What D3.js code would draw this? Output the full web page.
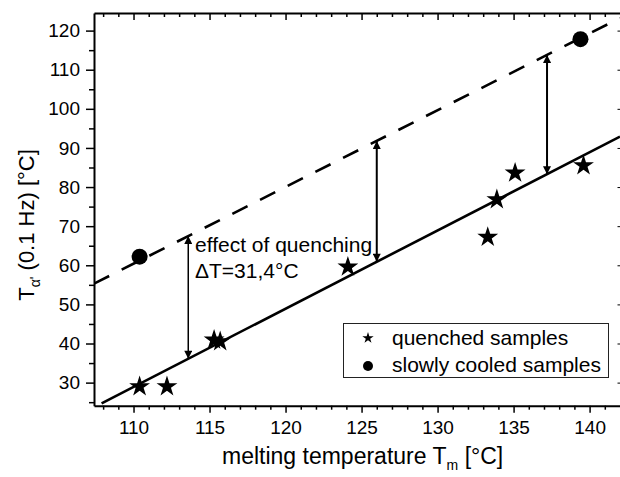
<!DOCTYPE html>
<html>
<head>
<meta charset="utf-8">
<script src="https://cdn.jsdelivr.net/npm/d3@7"></script>
<style>
  body { margin: 0; background: #fff; }
  svg { display: block; font-family: "Liberation Sans", Arial, sans-serif; }
  .axis path, .axis line { stroke: #000; }
  .axis text { font-size: 19px; fill: #000; }
</style>
</head>
<body>
<svg id="chart" width="620" height="477"></svg>
<script>
// quenched samples (stars)
const quenchedTm = [110.4, 112.2, 115.3, 115.7, 124.1, 133.3, 133.9, 135.1, 139.6];
const quenchedTa = [29.0, 29.0, 40.9, 40.5, 59.6, 67.2, 76.8, 83.6, 85.5];
// slowly cooled samples (circles)
const cooledTm = [110.4, 139.4];
const cooledTa = [62.2, 117.8];
// linear fits, given by their end points
const fitQuenchedTm = [107.9, 142];
const fitQuenchedTa = [24.7, 92.9];
const fitCooledTm = [107.4, 142];
const fitCooledTa = [55.3, 123.2];
// where the double arrows sit
const arrowTm = [113.6, 126.0, 137.2];
const xMajor = [110, 115, 120, 125, 130, 135, 140];
const yMajor = [30, 40, 50, 60, 70, 80, 90, 100, 110, 120];

const svg = d3.select("#chart");
const plotL = 94, plotR = 620, plotT = 13, plotB = 405.7;

const x = d3.scaleLinear().domain([107.4, 142]).range([plotL, plotR]);
const y = d3.scaleLinear().domain([24.1, 124.5]).range([plotB, plotT]);

const xMinor = d3.range(108, 142, 1).filter(v => !xMajor.includes(v));
const yMinor = d3.range(25, 125, 5).filter(v => !yMajor.includes(v));

// minor ticks first, major ticks on top
svg.append("g").attr("class", "axis").attr("transform", `translate(0,${plotB})`)
  .call(d3.axisBottom(x).tickValues(xMinor).tickSize(4).tickFormat(""))
  .call(g => g.select(".domain").remove())
  .selectAll("line").attr("stroke-width", 1.5);
svg.append("g").attr("class", "axis").attr("transform", `translate(0,${plotB})`)
  .call(d3.axisBottom(x).tickValues(xMajor).tickSize(7).tickPadding(8).tickSizeOuter(0))
  .call(g => g.select(".domain").attr("stroke-width", 2))
  .selectAll("line").attr("stroke-width", 1.5);

svg.append("g").attr("class", "axis").attr("transform", `translate(0,${plotT})`)
  .call(d3.axisTop(x).tickValues(xMinor).tickSize(-4).tickFormat(""))
  .call(g => g.select(".domain").remove())
  .selectAll("line").attr("stroke-width", 1.5);
svg.append("g").attr("class", "axis").attr("transform", `translate(0,${plotT})`)
  .call(d3.axisTop(x).tickValues(xMajor).tickSize(-7).tickFormat("").tickSizeOuter(0))
  .call(g => g.select(".domain").attr("stroke-width", 2))
  .selectAll("line").attr("stroke-width", 1.5);

svg.append("g").attr("class", "axis").attr("transform", `translate(${plotL},0)`)
  .call(d3.axisLeft(y).tickValues(yMinor).tickSize(5).tickFormat(""))
  .call(g => g.select(".domain").remove())
  .selectAll("line").attr("stroke-width", 1.5);
svg.append("g").attr("class", "axis").attr("transform", `translate(${plotL},0)`)
  .call(d3.axisLeft(y).tickValues(yMajor).tickSize(8).tickPadding(6).tickSizeOuter(0))
  .call(g => g.select(".domain").attr("stroke-width", 2))
  .selectAll("line").attr("stroke-width", 1.5);

// right axis sits just past the picture edge, only the inner ticks peek in
svg.append("g").attr("class", "axis").attr("transform", `translate(${plotR + 1.5},0)`)
  .call(d3.axisRight(y).tickValues(yMajor).tickSize(-4).tickFormat("").tickSizeOuter(0))
  .selectAll("line").attr("stroke", "#aaa");

const defs = svg.append("defs");
defs.append("clipPath").attr("id", "plot")
  .append("rect").attr("x", plotL).attr("y", plotT)
  .attr("width", plotR - plotL).attr("height", plotB - plotT);

const line = d3.line().x(d => x(d[0])).y(d => y(d[1]));
const plot = svg.append("g").attr("clip-path", "url(#plot)");

plot.append("path")
  .datum(d3.zip(fitQuenchedTm, fitQuenchedTa))
  .attr("d", line).attr("fill", "none").attr("stroke", "#000").attr("stroke-width", 2.6);
plot.append("path")
  .datum(d3.zip(fitCooledTm, fitCooledTa))
  .attr("d", line).attr("fill", "none").attr("stroke", "#000").attr("stroke-width", 2.6)
  .attr("stroke-dasharray", "17,14");

// double arrows between the two fits
const fitQ = d3.scaleLinear().domain(fitQuenchedTm).range(fitQuenchedTa);
const fitC = d3.scaleLinear().domain(fitCooledTm).range(fitCooledTa);

["start", "end"].forEach(k => {
  defs.append("marker").attr("id", "head-" + k)
    .attr("viewBox", "0 0 10 10").attr("refX", 10).attr("refY", 5)
    .attr("markerUnits", "userSpaceOnUse")
    .attr("markerWidth", 11).attr("markerHeight", 8)
    .attr("orient", k === "end" ? "auto" : "auto-start-reverse")
    .append("path").attr("d", "M0,0 L10,5 L0,10 Z").attr("fill", "#000");
});

plot.selectAll(".arrow").data(arrowTm).join("line")
  .attr("class", "arrow")
  .attr("x1", d => x(d)).attr("x2", d => x(d))
  .attr("y1", d => y(fitQ(d))).attr("y2", d => y(fitC(d)))
  .attr("stroke", "#000").attr("stroke-width", (d, i) => i === 0 ? 1.5 : 2)
  .attr("marker-start", "url(#head-start)")
  .attr("marker-end", "url(#head-end)");

const star = d3.symbol(d3.symbolStar, 135);
plot.selectAll(".star").data(d3.zip(quenchedTm, quenchedTa)).join("path")
  .attr("class", "star")
  .attr("transform", d => `translate(${x(d[0])},${y(d[1])})`)
  .attr("d", star).attr("fill", "#000");

plot.selectAll(".dot").data(d3.zip(cooledTm, cooledTa)).join("circle")
  .attr("class", "dot")
  .attr("cx", d => x(d[0])).attr("cy", d => y(d[1])).attr("r", 8)
  .attr("fill", "#000");

// annotation
const note = svg.append("text").attr("font-size", 21).attr("fill", "#000");
note.append("tspan").attr("x", 195).attr("y", 252).text("effect of quenching");
note.append("tspan").attr("x", 195).attr("y", 278).text("\u0394T=31,4\u00b0C");

// legend
const legend = svg.append("g");
legend.append("rect").attr("x", 343.5).attr("y", 323.5).attr("width", 265).attr("height", 54)
  .attr("fill", "#fff").attr("stroke", "#222").attr("stroke-width", 1);
legend.append("path").attr("transform", "translate(368,338)")
  .attr("d", d3.symbol(d3.symbolStar, 40)).attr("fill", "#000");
legend.append("circle").attr("cx", 368).attr("cy", 366).attr("r", 5).attr("fill", "#000");
legend.append("text").attr("x", 392).attr("y", 345).attr("font-size", 21).text("quenched samples");
legend.append("text").attr("x", 392).attr("y", 372).attr("font-size", 21).text("slowly cooled samples");

// axis titles
const xt = svg.append("text").attr("x", 222).attr("y", 464).attr("font-size", 23);
xt.append("tspan").text("melting temperature T");
xt.append("tspan").attr("font-size", 14).attr("dy", 6).text("m");
xt.append("tspan").attr("dy", -6).text(" [\u00b0C]");

const yt = svg.append("text").attr("text-anchor", "middle")
  .attr("transform", "translate(34,225) rotate(-90)").attr("font-size", 22);
yt.append("tspan").text("T");
yt.append("tspan").attr("font-size", 14).attr("dy", 6).text("\u03b1'");
yt.append("tspan").attr("dy", -6).text(" (0.1 Hz) [\u00b0C]");
</script>
</body>
</html>
